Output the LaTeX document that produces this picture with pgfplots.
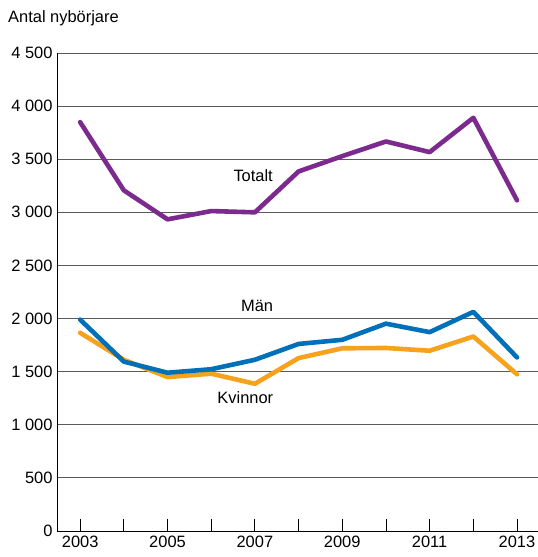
\documentclass[border=0pt]{standalone}
\usepackage{pgfplots}
\pgfplotsset{compat=1.18}
\usepackage{fontspec}
\setmainfont{Liberation Sans}
\definecolor{cpurple}{HTML}{7D2A8E}
\definecolor{cblue}{HTML}{0071B9}
\definecolor{corange}{HTML}{F7A21D}
\definecolor{cgrid}{HTML}{5A5A5A}
\begin{document}
\begin{tikzpicture}[font=\fontsize{16.5}{19}\selectfont]
\begin{axis}[
  scale only axis,
  width=481bp, height=478bp,
  xmin=2002.47, xmax=2013.48,
  ymin=0, ymax=4500,
  axis x line*=bottom, axis y line*=left,
  x axis line style={black, line width=0.8bp, -},
  y axis line style={black, line width=0.8bp, -},
  xtick={2003,...,2013},
  xticklabels={2003,,2005,,2007,,2009,,2011,,2013},
  xtick style={black, line width=0.8bp},
  major tick length=12bp,
  tick align=inside,
  ytick={0,500,...,4500},
  yticklabels={0,500,1 000,1 500,2 000,2 500,3 000,3 500,4 000,4 500},
  ytick style={draw=none},
  ymajorgrids,
  grid style={cgrid, line width=0.9bp},
  yticklabel style={anchor=east, xshift=-1bp},
  xticklabel style={anchor=north, yshift=-2bp},
  clip=false,
]
\addplot[cpurple, line width=4.6bp, line join=round, line cap=round] coordinates {
(2003,3849) (2004,3207) (2005,2934) (2006,3012) (2007,3000) (2008,3385)
(2009,3529) (2010,3667) (2011,3567) (2012,3890) (2013,3113)};
\addplot[corange, line width=4.6bp, line join=round, line cap=round] coordinates {
(2003,1866) (2004,1612) (2005,1449) (2006,1481) (2007,1386) (2008,1628)
(2009,1720) (2010,1723) (2011,1697) (2012,1831) (2013,1475)};
\addplot[cblue, line width=4.6bp, line join=round, line cap=round] coordinates {
(2003,1990) (2004,1595) (2005,1490) (2006,1523) (2007,1612) (2008,1761)
(2009,1800) (2010,1952) (2011,1872) (2012,2063) (2013,1634)};
\node at (axis cs:2006.96,3343) {Totalt};
\node at (axis cs:2007.05,2119) {Män};
\node at (axis cs:2006.78,1252) {Kvinnor};
\end{axis}
\node[anchor=west, inner sep=0pt] at ([xshift=-49bp, yshift=35bp]current axis.north west) {Antal nybörjare};
\pgfresetboundingbox
\useasboundingbox ([xshift=-57bp, yshift=-26bp]current axis.south west) rectangle ([yshift=531bp]current axis.south east);
\end{tikzpicture}
\end{document}
